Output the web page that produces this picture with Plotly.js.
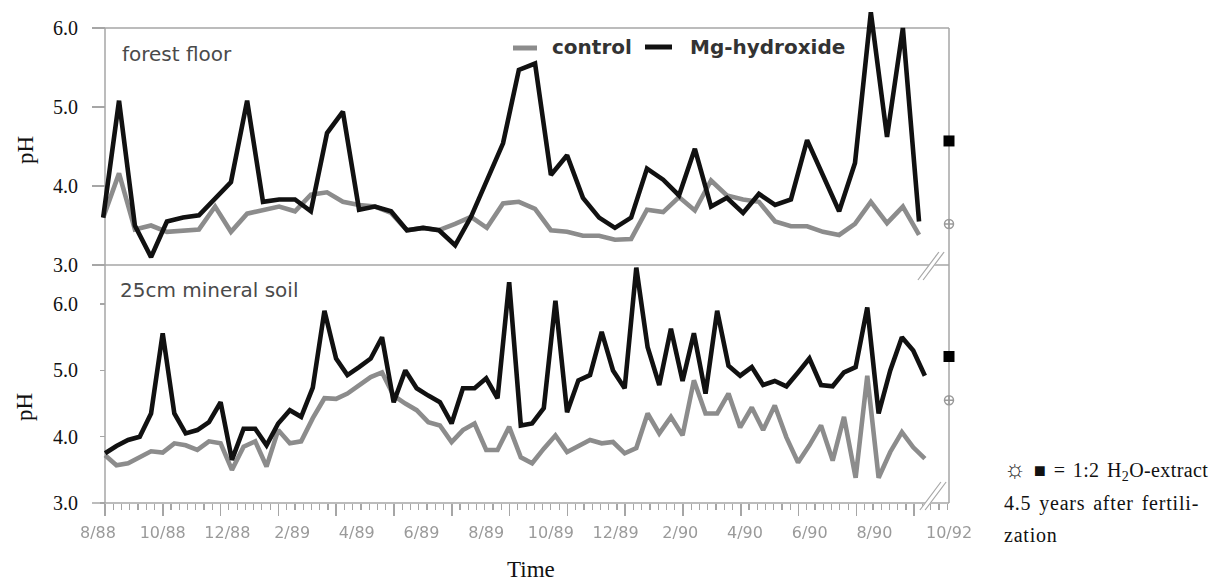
<!DOCTYPE html>
<html>
<head>
<meta charset="utf-8">
<script src="https://cdn.plot.ly/plotly-3.0.1.min.js"></script>
<style>
  html, body { margin: 0; padding: 0; background: #ffffff; }
  #chart { width: 1220px; height: 583px; }
  #chart .xtick text { filter: blur(0.5px); }
</style>
</head>
<body>
<div id="chart"></div>
<script>
// Soil solution pH after Mg-hydroxide fertilization (months counted from 8/88)

// Forest floor sampling (two-weekly)
const ffMonths = [0.16, 0.65, 1.14, 1.64, 2.13, 2.63, 3.12, 3.62, 4.11, 4.61,
                  5.10, 5.60, 6.09, 6.58, 7.08, 7.57, 8.07, 8.56, 9.06, 9.55,
                  10.05, 10.54, 11.04, 11.53, 12.02, 12.52, 13.01, 13.51, 14.00, 14.50,
                  14.99, 15.49, 15.98, 16.48, 16.97, 17.47, 17.96, 18.45, 18.95, 19.44,
                  19.94, 20.43, 20.93, 21.42, 21.92, 22.41, 22.91, 23.40, 23.89, 24.39,
                  24.88, 25.38];
const ffControl = [3.6, 4.16, 3.45, 3.5, 3.42, 3.44, 3.45, 3.74, 3.42, 3.65,
                   3.7, 3.74, 3.68, 3.89, 3.92, 3.8, 3.76, 3.74, 3.66, 3.44,
                   3.47, 3.44, 3.52, 3.61, 3.47, 3.78, 3.8, 3.71, 3.44, 3.42,
                   3.37, 3.37, 3.32, 3.33, 3.7, 3.67, 3.86, 3.69, 4.07, 3.88,
                   3.83, 3.8, 3.55, 3.49, 3.49, 3.42, 3.38, 3.52, 3.8, 3.53,
                   3.74, 3.38];
const ffMgOH = [3.6, 5.08, 3.5, 3.1, 3.55, 3.6, 3.63, 3.85, 4.05, 5.08,
                3.8, 3.83, 3.83, 3.68, 4.67, 4.94, 3.7, 3.74, 3.68, 3.44,
                3.47, 3.44, 3.25, 3.61, 4.08, 4.54, 5.47, 5.55, 4.14, 4.39,
                3.85, 3.6, 3.47, 3.6, 4.22, 4.08, 3.88, 4.47, 3.74, 3.85,
                3.66, 3.9, 3.76, 3.83, 4.58, 4.13, 3.68, 4.29, 6.2, 4.62,
                6.0, 3.55];

// 25 cm mineral soil sampling
const soilMonths = [0.22, 0.57, 0.93, 1.29, 1.64, 2.00, 2.36, 2.71, 3.07, 3.43,
                    3.79, 4.14, 4.50, 4.86, 5.21, 5.57, 5.93, 6.28, 6.64, 7.00,
                    7.36, 7.71, 8.07, 8.43, 8.78, 9.14, 9.50, 9.85, 10.21, 10.57,
                    10.93, 11.28, 11.64, 12.00, 12.35, 12.71, 13.07, 13.42, 13.78, 14.14,
                    14.50, 14.85, 15.21, 15.57, 15.92, 16.28, 16.64, 16.99, 17.35, 17.71,
                    18.07, 18.42, 18.78, 19.14, 19.49, 19.85, 20.21, 20.56, 20.92, 21.28,
                    21.64, 21.99, 22.35, 22.71, 23.06, 23.42, 23.78, 24.13, 24.49, 24.85,
                    25.20, 25.56];
const soilControl = [3.72, 3.57, 3.6, 3.7, 3.78, 3.76, 3.9, 3.87, 3.8, 3.93,
                     3.9, 3.5, 3.85, 3.93, 3.55, 4.1, 3.9, 3.93, 4.28, 4.58,
                     4.57, 4.65, 4.78, 4.9, 4.97, 4.62, 4.5, 4.4, 4.22, 4.17,
                     3.92, 4.1, 4.2, 3.8, 3.8, 4.15, 3.69, 3.6, 3.82, 4.02,
                     3.77, 3.85, 3.95, 3.9, 3.92, 3.75, 3.83, 4.35, 4.05, 4.3,
                     4.02, 4.85, 4.35, 4.35, 4.65, 4.14, 4.44, 4.1, 4.47, 3.99,
                     3.61, 3.87, 4.17, 3.64, 4.3, 3.38, 4.92, 3.38, 3.77, 4.07,
                     3.84, 3.67];
const soilMgOH = [3.75, 3.86, 3.95, 4.0, 4.35, 5.56, 4.35, 4.05, 4.1, 4.22,
                  4.52, 3.65, 4.12, 4.12, 3.87, 4.2, 4.4, 4.3, 4.74, 5.9,
                  5.18, 4.93, 5.05, 5.18, 5.5, 4.52, 5.0, 4.73, 4.62, 4.52,
                  4.2, 4.73, 4.73, 4.88, 4.58, 6.33, 4.17, 4.2, 4.43, 6.05,
                  4.37, 4.85, 4.93, 5.58, 5.0, 4.73, 6.55, 5.35, 4.78, 5.63,
                  4.84, 5.56, 4.65, 5.9, 5.07, 4.92, 5.05, 4.78, 4.84, 4.76,
                  4.97, 5.18, 4.78, 4.76, 4.97, 5.05, 5.95, 4.35, 5.0, 5.5,
                  5.3, 4.92];

// 1:2 H2O-extract, 10/92 (placed right after the axis break)
const extractMonth = 26.306;
const extractControl = [3.52, 4.55];   // [forest floor, mineral soil]
const extractMgOH = [4.57, 5.21];

// Axis labels
const tickMonths = [0, 2, 4, 6, 8, 10, 12, 14, 16, 18, 20, 22, 24, extractMonth];
const tickLabels = ['8/88', '10/88', '12/88', '2/89', '4/89', '6/89', '8/89',
                    '10/89', '12/89', '2/90', '4/90', '6/90', '8/90', '10/92'];
const phTicks = [3, 4, 5, 6];
const phLabels = ['3.0', '4.0', '5.0', '6.0'];

// ---- layout helpers (pixel -> paper) ----
const W = 1220, H = 583;
const px = v => v / W;
const py = v => 1 - v / H;

const GREY = '#8c8c8c';
const BLACK = '#111111';
const FRAME = '#a6a6a6';
const SERIF = 'Liberation Serif, Times New Roman, serif';
const SANS = 'DejaVu Sans, Verdana, sans-serif';

const xDomain = [px(98), px(949)];
const xRange = [0, extractMonth];
const axisX = px(105);               // position of the pH axes

const line = (x, y, yaxis, color) => ({
  x: x, y: y, xaxis: 'x', yaxis: yaxis, mode: 'lines',
  line: { color: color, width: 4.6 }, showlegend: false, hoverinfo: 'x+y'
});
const point = (y, yaxis, symbol, size, color, lw) => ({
  x: [extractMonth], y: [y], xaxis: 'x', yaxis: yaxis, mode: 'markers',
  cliponaxis: false, showlegend: false,
  marker: { symbol: symbol, size: size, color: color, line: { width: lw, color: color } }
});

const traces = [
  line(ffMonths, ffControl, 'y2', GREY),
  line(ffMonths, ffMgOH, 'y2', BLACK),
  line(soilMonths, soilControl, 'y', GREY),
  line(soilMonths, soilMgOH, 'y', BLACK),
  point(extractControl[0], 'y2', 'circle-cross-open', 9, '#9a9a9a', 1.5),
  point(extractMgOH[0], 'y2', 'square', 11, '#000000', 0),
  point(extractControl[1], 'y', 'circle-cross-open', 9, '#9a9a9a', 1.5),
  point(extractMgOH[1], 'y', 'square', 11, '#000000', 0),
  // carrier for the tick-mark axis
  { x: [], y: [], xaxis: 'x3', yaxis: 'y', mode: 'lines', showlegend: false, hoverinfo: 'skip' }
];

const frameLine = (x0, y0, x1, y1, w) => ({
  type: 'line', xref: 'paper', yref: 'paper', layer: 'below',
  x0: px(x0), y0: py(y0), x1: px(x1), y1: py(y1),
  line: { color: FRAME, width: w || 1.5 }
});

// axis break "//"
const breakMark = (cx, cy) => {
  const dx = 10.5, dy = 14, off = 2.6;
  return [
    { type: 'line', xref: 'paper', yref: 'paper', layer: 'above',
      x0: px(cx - dx), y0: py(cy + dy), x1: px(cx + dx), y1: py(cy - dy),
      line: { color: '#ffffff', width: 5 } },
    { type: 'line', xref: 'paper', yref: 'paper', layer: 'above',
      x0: px(cx - dx - off), y0: py(cy + dy), x1: px(cx + dx - off), y1: py(cy - dy),
      line: { color: FRAME, width: 1.2 } },
    { type: 'line', xref: 'paper', yref: 'paper', layer: 'above',
      x0: px(cx - dx + off), y0: py(cy + dy), x1: px(cx + dx + off), y1: py(cy - dy),
      line: { color: FRAME, width: 1.2 } }
  ];
};

const shapes = [
  frameLine(105, 28, 105, 503),     // left axis
  frameLine(949, 28, 949, 503),     // right border
  frameLine(92, 28, 949, 28),       // top border
  frameLine(92, 265, 949, 265),     // panel separator
  frameLine(92, 503, 949, 503),     // bottom axis
  ...breakMark(931, 266),
  ...breakMark(933, 496),
  // legend keys
  { type: 'line', xref: 'paper', yref: 'paper', x0: px(513), x1: px(537), y0: py(48), y1: py(48),
    line: { color: GREY, width: 5 } },
  { type: 'line', xref: 'paper', yref: 'paper', x0: px(645), x1: px(672), y0: py(47), y1: py(47),
    line: { color: BLACK, width: 5 } }
];

const ann = (text, x, y, font, extra) => Object.assign({
  text: text, xref: 'paper', yref: 'paper', x: px(x), y: py(y),
  showarrow: false, xanchor: 'left', yanchor: 'middle', align: 'left', font: font
}, extra || {});

const panelFont = { family: SANS, size: 20, color: '#4a4a4a' };
const legendFont = { family: SANS, size: 20, color: '#333333', weight: 'bold' };
const serifFont = { family: SERIF, size: 23, color: '#111111' };
const noteFont = { family: SERIF, size: 20, color: '#111111' };

const annotations = [
  ann('forest floor', 120, 54, panelFont),
  ann('25cm mineral soil', 118, 290, panelFont),
  ann('control', 550, 47, legendFont),
  ann('Mg-hydroxide', 688, 47, legendFont),
  ann('pH', 25, 150, serifFont, { xanchor: 'center', align: 'center', textangle: -90 }),
  ann('pH', 24, 407, serifFont, { xanchor: 'center', align: 'center', textangle: -90 }),
  ann('Time', 531, 569, serifFont, { xanchor: 'center', align: 'center' }),
  ann('<span style="font-size:24px">☼</span> ■ = 1:2 H<sub>2</sub>O-extract', 1002, 470, noteFont),
  ann('4.5 years after fertili-', 1002, 503, noteFont),
  ann('zation', 1002, 535, noteFont)
];
const NOTE_FIRST = annotations.length - 3;
const noteTracking = ['0.4px', '0.8px', '0.8px'];

const yCommon = {
  tickmode: 'array', tickvals: phTicks, ticktext: phLabels,
  tickfont: { family: SERIF, size: 20, color: '#111111' },
  ticks: 'outside', tickcolor: FRAME, tickwidth: 1.5,
  anchor: 'free', position: axisX,
  showline: false, showgrid: false, zeroline: false, fixedrange: true
};

const layout = {
  width: W, height: H,
  margin: { l: 0, r: 0, t: 0, b: 0 },
  paper_bgcolor: '#ffffff', plot_bgcolor: 'rgba(0,0,0,0)',
  showlegend: false,
  xaxis: {
    domain: xDomain, range: xRange, anchor: 'y',
    tickmode: 'array', tickvals: tickMonths, ticktext: tickLabels,
    ticks: '', ticklabelstandoff: 18,
    tickfont: { family: SANS, size: 16, color: '#9a9a9a' },
    showline: false, showgrid: false, zeroline: false, fixedrange: true
  },
  xaxis3: {
    overlaying: 'x', anchor: 'y', range: xRange,
    tickmode: 'linear', tick0: 0.2164, dtick: 1.7867,
    ticks: 'outside', ticklen: 12, tickcolor: FRAME, tickwidth: 1.5,
    minor: { ticks: 'outside', tick0: 0.2164, dtick: 0.25524, ticklen: 6, tickcolor: FRAME, tickwidth: 1.2 },
    showticklabels: false, showline: false, showgrid: false, zeroline: false, fixedrange: true
  },
  yaxis: Object.assign({}, yCommon, {
    domain: [py(503), py(265)], range: [3, 6.59],
    ticklen: 5, ticklabelstandoff: 18
  }),
  yaxis2: Object.assign({}, yCommon, {
    domain: [py(265), py(8)], range: [3, 6.253],
    ticklen: 13, ticklabelstandoff: 10
  }),
  shapes: shapes,
  annotations: annotations
};

Plotly.newPlot('chart', traces, layout, { staticPlot: true, displayModeBar: false }).then(gd => {
  // the note beside the plot is typeset with open tracking
  gd.querySelectorAll('g.annotation').forEach(g => {
    const idx = +g.getAttribute('data-index');
    if (idx >= NOTE_FIRST) {
      const t = g.querySelector('text');
      if (t) { t.style.letterSpacing = noteTracking[idx - NOTE_FIRST]; t.style.wordSpacing = '2px'; }
    }
  });
});
</script>
</body>
</html>
